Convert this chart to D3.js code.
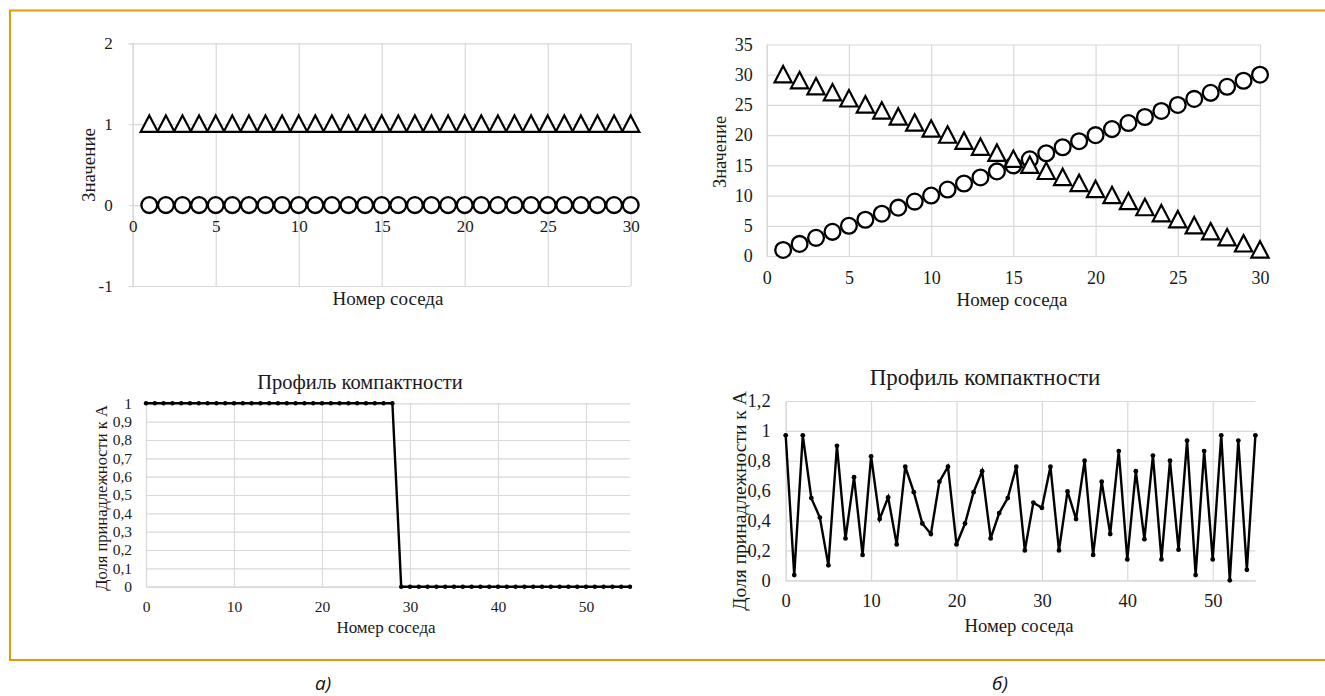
<!DOCTYPE html>
<html><head><meta charset="utf-8">
<script src="https://cdn.jsdelivr.net/npm/d3@7/dist/d3.min.js"></script>
<style>
html,body{margin:0;padding:0;background:#fff;overflow:hidden}
svg{display:block}
</style></head>
<body>
<svg id="fig" width="1325" height="696"></svg>
<script>
// ---------- data ----------
const neighborsTop = [1,2,3,4,5,6,7,8,9,10,11,12,13,14,15,16,17,18,19,20,21,22,23,24,25,26,27,28,29,30];
const aTriangles = [1,1,1,1,1,1,1,1,1,1,1,1,1,1,1,1,1,1,1,1,1,1,1,1,1,1,1,1,1,1];
const aCircles   = [0,0,0,0,0,0,0,0,0,0,0,0,0,0,0,0,0,0,0,0,0,0,0,0,0,0,0,0,0,0];
const bTriangles = [30,29,28,27,26,25,24,23,22,21,20,19,18,17,16,15,14,13,12,11,10,9,8,7,6,5,4,3,2,1];
const bCircles   = [1,2,3,4,5,6,7,8,9,10,11,12,13,14,15,16,17,18,19,20,21,22,23,24,25,26,27,28,29,30];
const neighborsBottom = [0,1,2,3,4,5,6,7,8,9,10,11,12,13,14,15,16,17,18,19,20,21,22,23,24,25,26,27,28,29,30,31,32,33,34,35,36,37,38,39,40,41,42,43,44,45,46,47,48,49,50,51,52,53,54,55];
const profileA = [1,1,1,1,1,1,1,1,1,1,1,1,1,1,1,1,1,1,1,1,1,1,1,1,1,1,1,1,1,0,0,0,0,0,0,0,0,0,0,0,0,0,0,0,0,0,0,0,0,0,0,0,0,0,0,0];
const profileB = [0.97,0.035,0.97,0.55,0.42,0.10,0.90,0.28,0.69,0.17,0.83,0.41,0.555,0.24,0.76,0.59,0.38,0.31,0.66,0.76,0.24,0.38,0.59,0.73,0.28,0.45,0.55,0.76,0.20,0.52,0.485,0.76,0.20,0.595,0.41,0.80,0.17,0.66,0.31,0.865,0.14,0.73,0.275,0.835,0.14,0.80,0.205,0.935,0.035,0.865,0.14,0.97,0.0,0.935,0.07,0.97];

const xTicksTop = [0,5,10,15,20,25,30];
const yTicksA = [-1,0,1,2];
const yTicksB = [0,5,10,15,20,25,30,35];
const xTicksBottom = [0,10,20,30,40,50];
const yTicksProfA = [0,0.1,0.2,0.3,0.4,0.5,0.6,0.7,0.8,0.9,1];
const yTicksProfB = [0,0.2,0.4,0.6,0.8,1,1.2];

const xTitle = "Номер соседа";
const yTitleTop = "Значение";
const yTitleBottom = "Доля принадлежности к А";
const chartTitle = "Профиль компактности";
const panelLabels = ["а)", "б)"];

// ---------- drawing ----------
const svg = d3.select("#fig");
const GRID = "#d9d9d9";
const SERIF = '"Liberation Serif","Times New Roman",serif';
const INK = "#1a1a1a";
const fmt = d => (Math.round(d*10)/10).toString().replace(".", ",");
const serif = (sel, size) => sel.style("font-family", SERIF).style("font-size", size+"px").style("fill", INK);

// frame
svg.append("rect").attr("x",10).attr("y",10.5).attr("width",1340).attr("height",649.5)
  .attr("fill","none").attr("stroke","#df9a0e").attr("stroke-width",2);

function panel(o){
  const g = svg.append("g");
  const x = d3.scaleLinear().domain(o.xDomain).range([o.left,o.right]);
  const y = d3.scaleLinear().domain(o.yDomain).range([o.bottom,o.top]);
  g.append("g").attr("transform",`translate(${o.left},0)`)
    .call(d3.axisLeft(y).tickValues(o.yTicks).tickSize(-(o.right-o.left)).tickFormat(""))
    .call(s=>{s.select(".domain").remove(); s.selectAll("line").attr("stroke",GRID).attr("stroke-width",1.2);});
  g.append("g").attr("transform",`translate(0,${o.bottom})`)
    .call(d3.axisBottom(x).tickValues(o.xGrid).tickSize(-(o.bottom-o.top)).tickFormat(""))
    .call(s=>{s.select(".domain").remove(); s.selectAll("line").attr("stroke",GRID).attr("stroke-width",1.2);});
  g.append("g").attr("transform",`translate(${o.left},0)`)
    .call(d3.axisLeft(y).tickValues(o.yTicks).tickSize(o.yTickLen||0).tickPadding(o.yPad).tickFormat(fmt))
    .call(s=>{s.select(".domain").attr("stroke",GRID).attr("stroke-width",1.2);
      s.selectAll("line").attr("stroke",GRID);
      serif(s.selectAll("text"), o.fs);});
  g.append("g").attr("transform",`translate(0,${y(o.xAxisAt)})`)
    .call(d3.axisBottom(x).tickValues(o.xTicks).tickSize(0).tickPadding(o.xPad).tickFormat(fmt))
    .call(s=>{s.select(".domain").attr("stroke",GRID).attr("stroke-width",1.2);
      serif(s.selectAll("text"), o.fs);});
  serif(g.append("text").attr("x",o.xtX).attr("y",o.xtY).attr("text-anchor","middle")
    .attr("dominant-baseline","central").text(xTitle), o.tfs);
  serif(g.append("text").attr("transform",`translate(${o.ytX},${o.ytY}) rotate(-90)`).attr("text-anchor","middle")
    .attr("dominant-baseline","central").text(o.yTitle), o.ytfs);
  if(o.title){
    serif(g.append("text").attr("x",o.tX).attr("y",o.tY).attr("text-anchor","middle")
      .attr("dominant-baseline","central").text(o.title), o.titleFs);
  }
  return {g,x,y};
}

const tri = "M0,-8.8L8.6,7.6L-8.6,7.6Z";

function markers(p, xs, circ, tris){
  p.g.append("g").selectAll("circle").data(xs).join("circle")
    .attr("cx",d=>p.x(d)).attr("cy",(d,i)=>p.y(circ[i])).attr("r",7.9)
    .attr("fill","#fff").attr("stroke","#000").attr("stroke-width",2.3);
  p.g.append("g").selectAll("path").data(xs).join("path")
    .attr("transform",(d,i)=>`translate(${p.x(d)},${p.y(tris[i])})`).attr("d",tri)
    .attr("fill","#fff").attr("stroke","#000").attr("stroke-width",2.2).attr("stroke-linejoin","miter");
}

const pA = panel({xDomain:[0,30], yDomain:[-1,2], left:132.7, right:630.7, top:43.3, bottom:286,
  yTicks:yTicksA, xGrid:xTicksTop, xTicks:xTicksTop, xAxisAt:0, yPad:16, xPad:15, yTickLen:4, fs:17, tfs:19, ytfs:19,
  xtX:388, xtY:298, ytX:88, ytY:165, yTitle:yTitleTop});
markers(pA, neighborsTop, aCircles, aTriangles);

const pB = panel({xDomain:[0,30], yDomain:[0,35], left:766.7, right:1260, top:44.5, bottom:256,
  yTicks:yTicksB, xGrid:xTicksTop, xTicks:xTicksTop, xAxisAt:0, yPad:14, xPad:15, fs:18, tfs:19, ytfs:18.5,
  xtX:1012, xtY:299, ytX:720, ytY:152, yTitle:yTitleTop});
markers(pB, neighborsTop, bCircles, bTriangles);

const pC = panel({xDomain:[0,55], yDomain:[0,1], left:146, right:630, top:403.3, bottom:586.7,
  yTicks:yTicksProfA, xGrid:xTicksBottom, xTicks:xTicksBottom, xAxisAt:0, yPad:14, xPad:14, fs:15.5, tfs:17, ytfs:16.5,
  xtX:386, xtY:627, ytX:101, ytY:498, yTitle:yTitleBottom, title:chartTitle, tX:360, tY:382, titleFs:20.5});
const lineC = d3.line().x(d=>pC.x(d)).y((d,i)=>pC.y(profileA[i]));
pC.g.append("path").attr("d",lineC(neighborsBottom)).attr("fill","none").attr("stroke","#000").attr("stroke-width",2.4);
pC.g.append("g").selectAll("circle").data(neighborsBottom).join("circle")
  .attr("cx",d=>pC.x(d)).attr("cy",(d,i)=>pC.y(profileA[i])).attr("r",2.2).attr("fill","#000");

const pD = panel({xDomain:[0,55], yDomain:[0,1.2], left:785.7, right:1255.4, top:401, bottom:580.3,
  yTicks:yTicksProfB, xGrid:xTicksBottom, xTicks:xTicksBottom, xAxisAt:0, yPad:15, xPad:14, fs:18.5, tfs:18.7, ytfs:19.5,
  xtX:1019, xtY:625, ytX:739, ytY:501, yTitle:yTitleBottom, title:chartTitle, tX:985, tY:377, titleFs:23});
const lineD = d3.line().x(d=>pD.x(d)).y((d,i)=>pD.y(profileB[i]));
pD.g.append("path").attr("d",lineD(neighborsBottom)).attr("fill","none").attr("stroke","#000").attr("stroke-width",2.4).attr("stroke-linejoin","miter");
pD.g.append("g").selectAll("circle").data(neighborsBottom).join("circle")
  .attr("cx",d=>pD.x(d)).attr("cy",(d,i)=>pD.y(profileB[i])).attr("r",2.4).attr("fill","#000");

[[323,panelLabels[0]],[1000,panelLabels[1]]].forEach(([px,t])=>{
  svg.append("text").attr("x",px).attr("y",683).attr("text-anchor","middle").attr("dominant-baseline","central")
    .style("font-family",'"Open Sans",sans-serif').style("font-style","italic").style("font-size","19px")
    .style("fill","#111").text(t);
});
</script>
</body></html>
